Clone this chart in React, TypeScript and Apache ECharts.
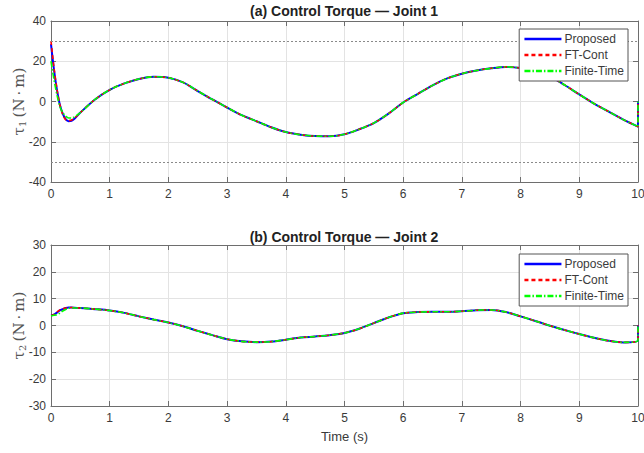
import React, { useEffect, useRef } from "react";
import * as echarts from "echarts";

// time samples (s)
const timeHead = [0, 0.05, 0.1, 0.15, 0.2, 0.25, 0.3, 0.35, 0.4];
const timeTail = [
  0.5, 0.75, 1.0, 1.25, 1.5, 1.75, 2.0, 2.25, 2.5, 2.75, 3.0, 3.25, 3.5, 3.75,
  4.0, 4.25, 4.5, 4.75, 5.0, 5.25, 5.5, 5.75, 6.0, 6.25, 6.5, 6.75, 7.0, 7.25,
  7.5, 7.75, 8.0, 8.25, 8.5, 8.75, 9.0, 9.25, 9.5, 9.75, 10.0, 10.0,
];

// Joint 1 torque (N·m)
const j1ProposedHead = [28.5, 16, 6, -1.5, -6, -8.8, -9.8, -9.6, -8.6];
const j1FtContHead = [30, 17, 6.5, -1.5, -6.5, -9, -9.5, -9.2, -8.3];
const j1FiniteHead = [20, 11, 3.5, -2.5, -5.5, -7.3, -8.2, -8.2, -7.6];
const j1Tail = [
  -5.5, 1.0, 5.8, 9.0, 11.2, 12.3, 11.8, 9.5, 5.2, 1.0, -3.0, -6.8, -9.8, -12.8,
  -15.2, -16.5, -17.2, -17.3, -16.3, -13.8, -10.7, -6.0, -0.5, 3.8, 8.0, 11.5,
  13.8, 15.4, 16.5, 17.2, 16.6, 15.0, 12.5, 8.2, 3.5, -1.0, -5.0, -9.0, -12.5, 0,
];

// Joint 2 torque (N·m)
const j2ProposedHead = [3.8, 4.0, 4.8, 5.6, 6.1, 6.5, 6.7, 6.7, 6.6];
const j2FtContHead = [3.7, 4.1, 5.0, 5.8, 6.2, 6.5, 6.7, 6.7, 6.6];
const j2FiniteHead = [3.6, 3.8, 4.0, 4.6, 5.4, 6.0, 6.4, 6.6, 6.5];
const j2Tail = [
  6.5, 6.1, 5.6, 4.7, 3.4, 2.2, 1.1, -0.3, -2.0, -3.6, -5.1, -5.9, -6.2, -6.0,
  -5.3, -4.5, -4.1, -3.6, -2.8, -1.2, 0.9, 3.0, 4.6, 5.0, 5.1, 5.1, 5.3, 5.7,
  5.8, 5.0, 3.4, 1.7, -0.1, -1.7, -3.2, -4.6, -5.7, -6.3, -5.6, 0,
];

const xTicks = [0, 10, 1];
const j1Range = [-40, 40, 20];
const j1Limits = [30, -30];
const j2Range = [-30, 30, 10];

const seriesNames = ["Proposed", "FT-Cont", "Finite-Time"];
const seriesColors = ["#0000ff", "#ff0000", "#00ff00"];
const titles = ["(a) Control Torque \u2014 Joint 1", "(b) Control Torque \u2014 Joint 2"];

const times = [...timeHead, ...timeTail];
const pairs = (head: number[], tail: number[]) =>
  times.map((t, i) => [t, i < head.length ? head[i] : tail[i - head.length]]);

const AXIS_COLOR = "#6e6e6e";
const TEXT_COLOR = "#3a3a3a";
const GRID_COLOR = "#e3e3e3";

export default function App() {
  const ref = useRef<HTMLDivElement>(null);

  useEffect(() => {
    if (!ref.current) return;
    const chart = echarts.init(ref.current, null, { renderer: "svg" });

    const grids = [
      { left: 51, top: 21, width: 587, height: 161, outerBoundsMode: "none", containLabel: false },
      { left: 51, top: 245, width: 587, height: 161, outerBoundsMode: "none", containLabel: false },
    ];

    const xAxes: any[] = [];
    const yAxes: any[] = [];
    const ranges = [j1Range, j2Range];
    grids.forEach((_, g) => {
      xAxes.push({
        type: "value",
        gridIndex: g,
        min: xTicks[0],
        max: xTicks[1],
        interval: xTicks[2],
        position: "bottom",
        axisLine: { show: true, onZero: false, lineStyle: { color: AXIS_COLOR, width: 1 } },
        axisTick: { show: true, inside: true, length: 5, lineStyle: { color: AXIS_COLOR } },
        axisLabel: { color: TEXT_COLOR, fontSize: 12, fontFamily: "Liberation Sans, Arial", margin: 6 },
        splitLine: { show: true, lineStyle: { color: GRID_COLOR, width: 1 } },
        name: g === 1 ? "Time (s)" : "",
        nameLocation: "middle",
        nameGap: 24,
        nameTextStyle: { color: TEXT_COLOR, fontSize: 13, fontFamily: "Liberation Sans, Arial" },
      });
      xAxes.push({
        type: "value",
        gridIndex: g,
        min: xTicks[0],
        max: xTicks[1],
        interval: xTicks[2],
        position: "top",
        axisLine: { show: true, onZero: false, lineStyle: { color: AXIS_COLOR, width: 1 } },
        axisTick: { show: true, inside: true, length: 5, lineStyle: { color: AXIS_COLOR } },
        axisLabel: { show: false },
        splitLine: { show: false },
      });
      const r = ranges[g];
      yAxes.push({
        type: "value",
        gridIndex: g,
        min: r[0],
        max: r[1],
        interval: r[2],
        position: "left",
        axisLine: { show: true, onZero: false, lineStyle: { color: AXIS_COLOR, width: 1 } },
        axisTick: { show: true, inside: true, length: 5, lineStyle: { color: AXIS_COLOR } },
        axisLabel: { color: TEXT_COLOR, fontSize: 12, fontFamily: "Liberation Sans, Arial", margin: 5 },
        splitLine: { show: true, lineStyle: { color: GRID_COLOR, width: 1 } },
        name: `{t|\u03c4}{s|${g + 1}} {t|(N\u2009\u00b7\u2009m)}`,
        nameLocation: "middle",
        nameRotate: 90,
        nameGap: 24,
        nameMoveOverlap: false,
        nameTextStyle: {
          color: TEXT_COLOR,
          rich: {
            t: { fontFamily: "DejaVu Serif", fontSize: 15, color: "#555" },
            s: { fontFamily: "DejaVu Serif", fontSize: 10, color: "#555", verticalAlign: "bottom", padding: [7, 0, 0, 0] },
          },
        },
      });
      yAxes.push({
        type: "value",
        gridIndex: g,
        min: r[0],
        max: r[1],
        interval: r[2],
        position: "right",
        axisLine: { show: true, onZero: false, lineStyle: { color: AXIS_COLOR, width: 1 } },
        axisTick: { show: true, inside: true, length: 5, lineStyle: { color: AXIS_COLOR } },
        axisLabel: { show: false },
        splitLine: { show: false },
      });
    });

    const lineTypes: any[] = ["solid", [4, 3], [6, 2, 1.5, 2]];
    const data = [
      [pairs(j1ProposedHead, j1Tail), pairs(j1FtContHead, j1Tail), pairs(j1FiniteHead, j1Tail)],
      [pairs(j2ProposedHead, j2Tail), pairs(j2FtContHead, j2Tail), pairs(j2FiniteHead, j2Tail)],
    ];

    const series: any[] = [];
    data.forEach((set, g) => {
      set.forEach((d, k) => {
        series.push({
          type: "line",
          name: seriesNames[k],
          xAxisIndex: g * 2,
          yAxisIndex: g * 2,
          data: d,
          smooth: 0.3,
          showSymbol: false,
          symbol: "none",
          color: seriesColors[k],
          lineStyle: { color: seriesColors[k], width: k === 0 ? 2 : 1.6, type: lineTypes[k] },
          z: 3 + k,
          markLine:
            g === 0 && k === 0
              ? {
                  silent: true,
                  symbol: "none",
                  label: { show: false },
                  lineStyle: { color: "#8a8a8a", type: [2, 2], width: 1 },
                  data: j1Limits.map((v) => ({ yAxis: v })),
                }
              : undefined,
        });
      });
    });

    const legends = grids.map((gr, g) => ({
      orient: "vertical",
      right: 16,
      top: g === 0 ? 29 : 254,
      z: 20,
      data: seriesNames,
      itemWidth: 37,
      itemHeight: 10,
      itemGap: 4,
      padding: [4, 4, 4, 4],
      backgroundColor: "#fff",
      borderColor: "#555",
      borderWidth: 1,
      itemStyle: { opacity: 0 },
      lineStyle: { width: 2.5 },
      textStyle: { color: TEXT_COLOR, fontSize: 12, lineHeight: 12, fontFamily: "Liberation Sans, Arial", padding: [0, 0, 0, -2] },
      selectedMode: false,
    }));

    chart.setOption({
      animation: false,
      backgroundColor: "#fff",
      title: titles.map((t, g) => ({
        text: t,
        left: 344,
        textAlign: "center",
        top: g === 0 ? 4 : 230,
        padding: 0,
        textStyle: { fontSize: 14, fontWeight: "bold", color: "#222", fontFamily: "Liberation Sans, Arial" },
      })),
      legend: legends,
      grid: grids,
      xAxis: xAxes,
      yAxis: yAxes,
      series,
    });

    return () => chart.dispose();
  }, []);

  return <div ref={ref} style={{ width: 644, height: 453, position: "absolute", left: 0, top: 0 }} />;
}
